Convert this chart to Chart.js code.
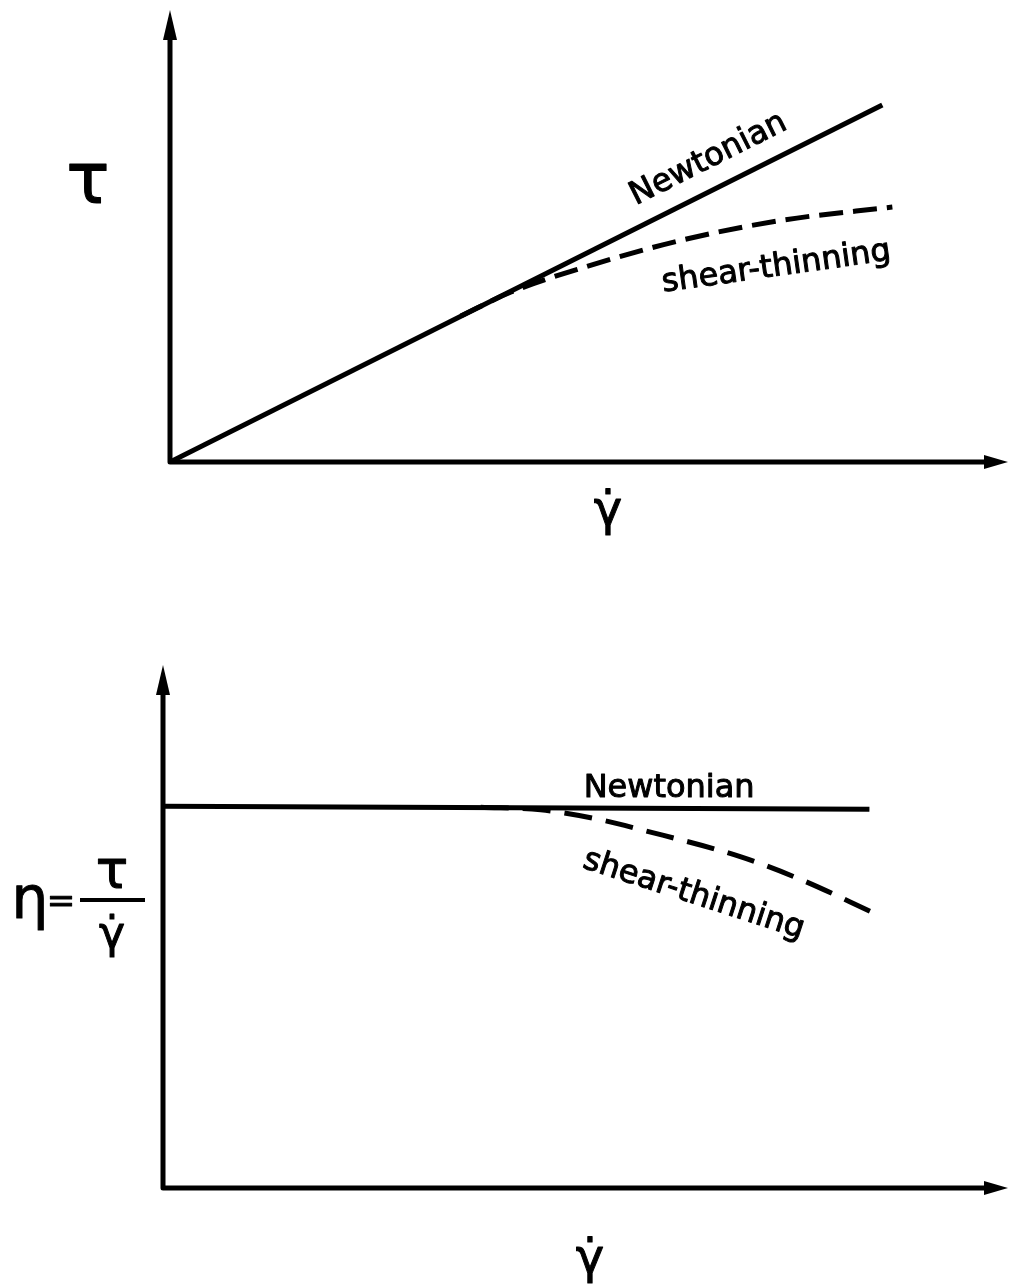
<!DOCTYPE html>
<html>
<head>
<meta charset="utf-8">
<title>Newtonian and shear-thinning flow curves</title>
<script src="https://cdn.jsdelivr.net/npm/chart.js@4.4.0/dist/chart.umd.min.js"></script>
<style>
  body { margin: 0; background: #fff; }
  canvas { display: block; }
</style>
</head>
<body>
<canvas id="stressChart" width="1010" height="620"></canvas>
<canvas id="viscosityChart" width="1010" height="667"></canvas>
<script>
// shear stress against shear rate
const stressNewtonianX = [0, 8.50];
const stressNewtonianY = [0, 7.90];
const stressThinningX = [3.47, 4.07, 4.91, 6.11, 7.31, 8.62];
const stressThinningY = [3.23, 3.76, 4.29, 4.91, 5.35, 5.64];

// viscosity against shear rate
const viscNewtonianX = [0, 8.36];
const viscNewtonianY = [7.30, 7.24];
const viscThinningX = [3.76, 4.47, 5.18, 5.66, 6.84, 7.56, 8.41];
const viscThinningY = [7.28, 7.23, 7.04, 6.85, 6.33, 5.89, 5.26];

const GAMMA_DOT = '\u03B3\u0307';
const TEXT_FONT = '"DejaVu Sans", sans-serif';

function toPoints(xs, ys) {
    return xs.map((x, i) => ({ x: x, y: ys[i] }));
}

// filled text with a thin outline so it reads like pen lettering
function penText(ctx, text, x, y, size) {
    ctx.font = size + 'px ' + TEXT_FONT;
    ctx.lineWidth = 1;
    ctx.fillText(text, x, y);
    ctx.strokeText(text, x, y);
}

// hand-drawn looking axes with arrow heads, plus the curve labels
const sketchAxes = {
    id: 'sketchAxes',
    afterDraw(chart, args, opts) {
        const ctx = chart.ctx;
        const a = chart.chartArea;
        ctx.save();
        ctx.strokeStyle = '#000';
        ctx.fillStyle = '#000';
        ctx.lineWidth = 5;
        ctx.lineJoin = 'round';
        ctx.beginPath();
        ctx.moveTo(a.left, a.top + 20);
        ctx.lineTo(a.left, a.bottom);
        ctx.lineTo(a.right - 15, a.bottom);
        ctx.stroke();

        // y arrow
        ctx.beginPath();
        ctx.moveTo(a.left, a.top);
        ctx.lineTo(a.left - 7, a.top + 30);
        ctx.lineTo(a.left + 7, a.top + 30);
        ctx.closePath();
        ctx.fill();
        // x arrow
        ctx.beginPath();
        ctx.moveTo(a.right, a.bottom);
        ctx.lineTo(a.right - 24, a.bottom - 7);
        ctx.lineTo(a.right - 24, a.bottom + 7);
        ctx.closePath();
        ctx.fill();

        ctx.textAlign = 'center';
        ctx.textBaseline = 'alphabetic';

        // labels sitting next to the curves
        const xs = chart.scales.x, ys = chart.scales.y;
        opts.notes.forEach(n => {
            ctx.save();
            ctx.translate(xs.getPixelForValue(n.x), ys.getPixelForValue(n.y));
            ctx.rotate(n.angle * Math.PI / 180);
            penText(ctx, n.text, 0, 0, 32);
            ctx.restore();
        });

        // shear rate under the x axis
        penText(ctx, GAMMA_DOT, opts.xTitleX, a.bottom + opts.xTitleDy, 48);

        if (opts.yTitle === 'tau') {
            penText(ctx, '\u03C4', a.left - 82, 203, 72);
        } else {
            // eta = tau / gamma-dot
            const midY = 280;
            penText(ctx, '\u03B7', 30, midY + 18, 58);
            penText(ctx, '=', 61, midY + 12, 34);
            ctx.lineWidth = 4;
            ctx.beginPath();
            ctx.moveTo(80, midY);
            ctx.lineTo(145, midY);
            ctx.stroke();
            penText(ctx, '\u03C4', 112, midY - 12, 54);
            penText(ctx, GAMMA_DOT, 112, midY + 48, 44);
        }
        ctx.restore();
    }
};

function buildChart(id, newtonian, thinning, dash, padding, pluginOpts) {
    return new Chart(document.getElementById(id), {
        type: 'scatter',
        data: {
            datasets: [{
                label: 'Newtonian',
                data: newtonian,
                showLine: true,
                borderColor: '#000',
                borderWidth: 5,
                pointRadius: 0
            }, {
                label: 'shear-thinning',
                data: thinning,
                showLine: true,
                borderColor: '#000',
                borderWidth: 5,
                borderDash: dash,
                cubicInterpolationMode: 'monotone',
                pointRadius: 0
            }]
        },
        options: {
            responsive: false,
            devicePixelRatio: 1,
            animation: false,
            layout: { padding: padding },
            scales: {
                x: { type: 'linear', min: 0, max: 10, display: false },
                y: { type: 'linear', min: 0, max: 10, display: false }
            },
            plugins: {
                legend: { display: false },
                tooltip: { enabled: false },
                sketchAxes: pluginOpts
            }
        },
        plugins: [sketchAxes]
    });
}

buildChart('stressChart',
    toPoints(stressNewtonianX, stressNewtonianY),
    toPoints(stressThinningX, stressThinningY),
    [24, 10],
    { left: 170, right: 2, top: 10, bottom: 158 },
    {
        yTitle: 'tau',
        xTitleX: 608,
        xTitleDy: 63,
        notes: [
            { text: 'Newtonian', x: 6.47, y: 6.53, angle: -26.7 },
            { text: 'shear-thinning', x: 7.25, y: 4.12, angle: -8 }
        ]
    });

buildChart('viscosityChart',
    toPoints(viscNewtonianX, viscNewtonianY),
    toPoints(viscThinningX, viscThinningY),
    [28, 14],
    { left: 163, right: 2, top: 45, bottom: 99 },
    {
        yTitle: 'eta',
        xTitleX: 590,
        xTitleDy: 85,
        notes: [
            { text: 'Newtonian', x: 5.99, y: 7.48, angle: 0 },
            { text: 'shear-thinning', x: 6.25, y: 5.45, angle: 18 }
        ]
    });
</script>
</body>
</html>
